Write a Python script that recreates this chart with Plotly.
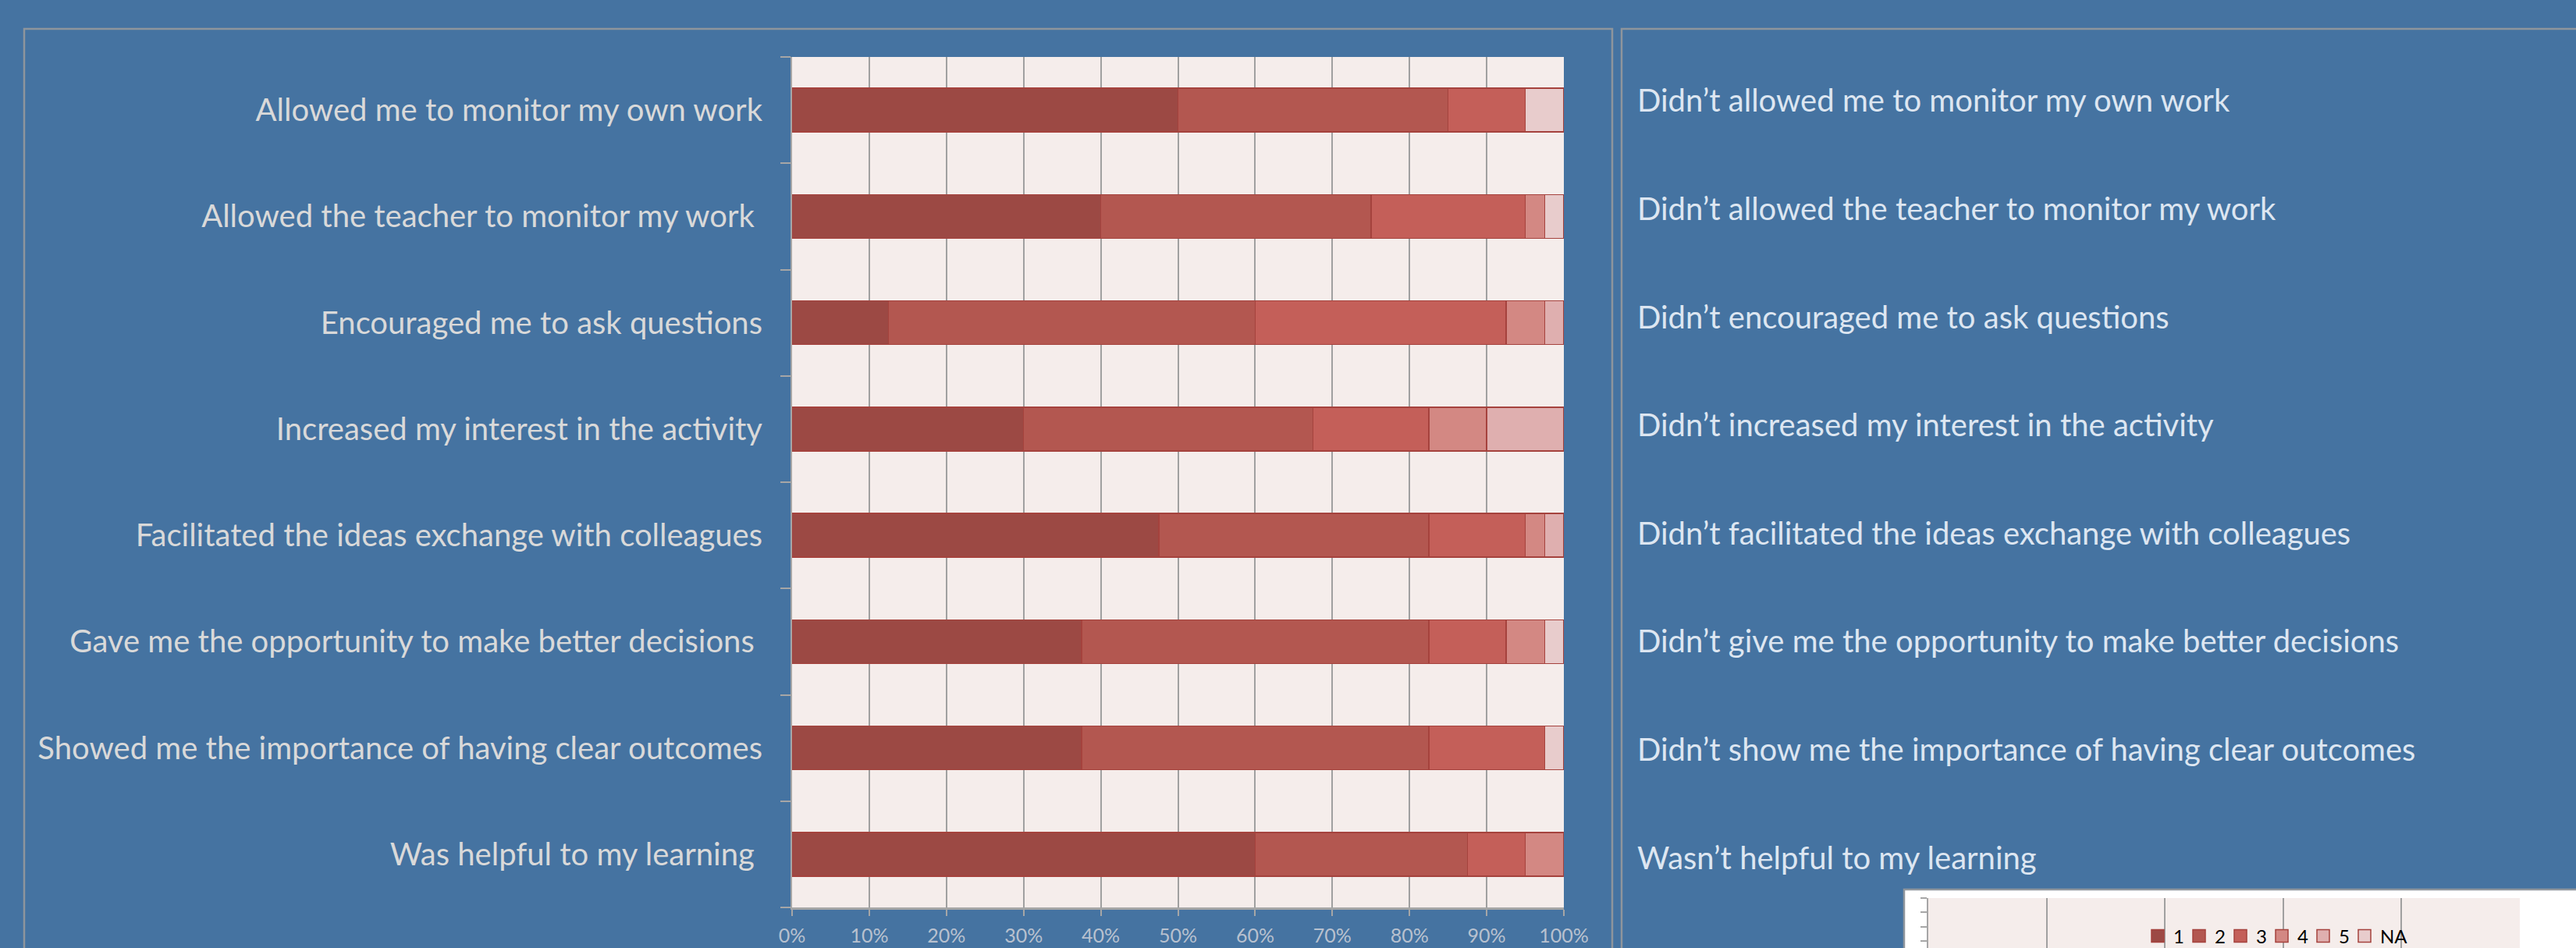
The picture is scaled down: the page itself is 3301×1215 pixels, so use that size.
import plotly.graph_objects as go

# ---------------- data ----------------
statements = [
    "Allowed me to monitor my own work",
    "Allowed the teacher to monitor my work\u00a0",
    "Encouraged me to ask questions",
    "Increased my interest in the activity",
    "Facilitated the ideas exchange with colleagues",
    "Gave me the opportunity to make better decisions\u00a0",
    "Showed me the importance of having clear outcomes",
    "Was helpful to my learning\u00a0",
]
opposites = [
    "Didn’t allowed me to monitor my own work",
    "Didn’t allowed the teacher to monitor my work",
    "Didn’t encouraged me to ask questions",
    "Didn’t increased my interest in the activity",
    "Didn’t facilitated the ideas exchange with colleagues",
    "Didn’t give me the opportunity to make better decisions",
    "Didn’t show me the importance of having clear outcomes",
    "Wasn’t helpful to my learning",
]
series_names = ["1", "2", "3", "4", "5", "NA"]
s1 = [50.0, 40.0, 12.5, 30.0, 47.5, 37.5, 37.5, 60.0]
s2 = [35.0, 35.0, 47.5, 37.5, 35.0, 45.0, 45.0, 27.5]
s3 = [10.0, 20.0, 32.5, 15.0, 12.5, 10.0, 15.0, 7.5]
s4 = [0.0, 2.5, 5.0, 7.5, 2.5, 5.0, 0.0, 5.0]
s5 = [0.0, 0.0, 2.5, 10.0, 2.5, 0.0, 0.0, 0.0]
sNA = [5.0, 2.5, 0.0, 0.0, 0.0, 2.5, 2.5, 0.0]
x_ticks = [0, 10, 20, 30, 40, 50, 60, 70, 80, 90, 100]
x_ticklabels = [f"{v}%" for v in x_ticks]
legend_grid = [0, 1, 2, 3, 4, 5]

series = [s1, s2, s3, s4, s5, sNA]
colors = ["#9c4944", "#b35750", "#c45f59", "#d38883", "#dfafaf", "#e8cccc"]

W, H = 3301, 1215
BG = "#4573a1"
PLOT_BG = "#f5edeb"
GRID = "#a0a0a0"
FRAME = "#8e959c"
AXIS = "#a6a6a6"
OUTLINE = "#a5423d"


def px(v):
    return v / W


def py(v):
    return 1 - v / H


fig = go.Figure()

for name, vals, col in zip(series_names, series, colors):
    fig.add_trace(go.Bar(
        name=name,
        y=statements,
        x=[v if v > 0 else None for v in vals],
        orientation="h",
        marker=dict(color=col, line=dict(color=OUTLINE, width=1.5)),
        xaxis="x", yaxis="y",
        legendgroup=name,
        showlegend=False,
    ))

# legend keys (square swatches) for the series above
for name, col in zip(series_names, colors):
    fig.add_trace(go.Scatter(
        name=name, x=[None], y=[None], mode="markers",
        marker=dict(symbol="square", size=16, color=col,
                    line=dict(color=OUTLINE, width=1.5)),
        xaxis="x2", yaxis="y2", legendgroup=name,
        showlegend=True, hoverinfo="skip",
    ))

# invisible spacer entry so the last legend label is not clipped
fig.add_trace(go.Scatter(
    name=" ", x=[None], y=[None], mode="markers",
    marker=dict(size=1, color="rgba(0,0,0,0)"),
    xaxis="x2", yaxis="y2", showlegend=True, hoverinfo="skip",
))

# right-hand opposite statements as text marks on an invisible category axis
fig.add_trace(go.Scatter(
    x=[0] * len(opposites),
    y=opposites,
    mode="text",
    text=opposites,
    textposition="middle right",
    textfont=dict(family="Lato", size=40, color="#dde6f1"),
    xaxis="x3", yaxis="y3",
    showlegend=False,
    hoverinfo="skip",
))

# small partial chart bottom right (gridlines only)
fig.add_trace(go.Scatter(
    x=legend_grid, y=[None] * len(legend_grid), mode="lines",
    xaxis="x2", yaxis="y2", showlegend=False, hoverinfo="skip",
))

shapes = [
    # left panel frame
    dict(type="rect", xref="paper", yref="paper",
         x0=px(31), x1=px(2066), y0=py(37), y1=-0.2,
         line=dict(color=FRAME, width=2.5), fillcolor="rgba(0,0,0,0)", layer="below"),
    # right panel frame
    dict(type="rect", xref="paper", yref="paper",
         x0=px(2078), x1=1.2, y0=py(37), y1=-0.2,
         line=dict(color=FRAME, width=2.5), fillcolor="rgba(0,0,0,0)", layer="below"),
    # small chart white frame
    dict(type="rect", xref="paper", yref="paper",
         x0=px(2440), x1=1.2, y0=py(1140), y1=-0.2,
         line=dict(color=FRAME, width=2.5), fillcolor="#ffffff", layer="below"),
    # plot-area backgrounds
    dict(type="rect", xref="x domain", yref="y domain", x0=0, x1=1, y0=0, y1=1,
         line=dict(width=0), fillcolor=PLOT_BG, layer="below"),
    dict(type="rect", xref="x2 domain", yref="y2 domain", x0=0, x1=1, y0=0, y1=1,
         line=dict(width=0), fillcolor=PLOT_BG, layer="below"),
]

fig.update_layout(
    width=W, height=H,
    margin=dict(l=0, r=0, t=0, b=0, autoexpand=False),
    paper_bgcolor=BG,
    plot_bgcolor="rgba(0,0,0,0)",
    barmode="stack",
    bargap=0.59,
    shapes=shapes,
    font=dict(family="Lato"),
    xaxis=dict(
        domain=[px(1015), px(2004)],
        range=[0, 100],
        tickvals=x_ticks,
        ticktext=x_ticklabels,
        showgrid=True, gridcolor=GRID, gridwidth=2,
        zeroline=False,
        showline=True, linecolor=AXIS, linewidth=3,
        ticks="outside", ticklen=8, tickwidth=2, tickcolor=AXIS,
        tickfont=dict(family="Lato", size=25, color="#b8c1cf"),
        ticklabelstandoff=4,
        anchor="y",
        automargin=False,
    ),
    yaxis=dict(
        domain=[py(1163), py(73)],
        type="category",
        categoryarray=statements[::-1],
        categoryorder="array",
        showgrid=False,
        showline=True, linecolor=AXIS, linewidth=2,
        ticks="outside", tickson="boundaries", ticklen=13, tickwidth=2, tickcolor=AXIS,
        tickfont=dict(family="Lato", size=40, color="#d9d9d9"),
        ticklabelstandoff=28,
        anchor="x",
        automargin=False,
    ),
    xaxis2=dict(
        domain=[px(2471), px(3229)],
        range=[0, 5.0001],
        dtick=1,
        showgrid=True, gridcolor=GRID, gridwidth=2,
        zeroline=False, showticklabels=False, ticks="",
        anchor="y2",
        automargin=False,
    ),
    yaxis2=dict(
        domain=[0, py(1151)],
        range=[3.497, 0],
        tickvals=[0, 1, 2, 3],
        showticklabels=False,
        showgrid=False, zeroline=False,
        showline=True, linecolor=AXIS, linewidth=2,
        ticks="outside", ticklen=8, tickwidth=2, tickcolor=AXIS,
        anchor="x2",
        automargin=False,
    ),
    xaxis3=dict(
        domain=[px(2098), 1.0],
        range=[0, 1],
        visible=False,
        anchor="y3",
    ),
    yaxis3=dict(
        domain=[py(1173), py(64)],
        type="category",
        categoryarray=opposites[::-1],
        categoryorder="array",
        range=[-0.5, 7.5],
        autorange=False,
        visible=False,
        anchor="x3",
    ),
    legend=dict(
        orientation="h",
        x=px(2745), xanchor="left",
        y=-0.006, yanchor="bottom",
        traceorder="normal",
        bgcolor="rgba(0,0,0,0)",
        font=dict(family="Lato", size=24, color="#000000"),
        itemwidth=30,
        entrywidth=8,
        entrywidthmode="pixels",
        tracegroupgap=0,
    ),
    showlegend=True,
)

fig.write_html(
    "out.html",
    config={"displayModeBar": False},
    post_script="document.body.style.margin='0';document.body.style.overflow='hidden';",
)
